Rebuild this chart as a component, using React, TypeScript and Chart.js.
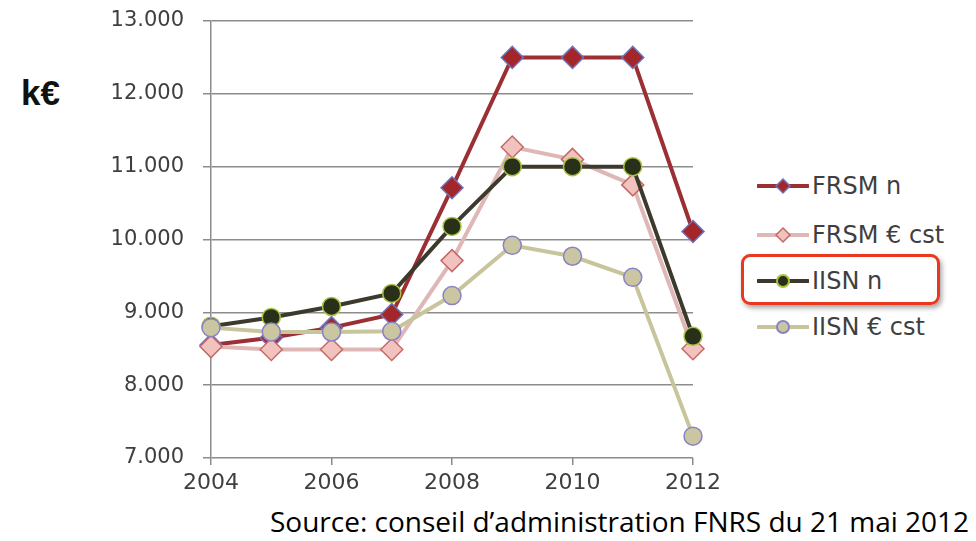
import React, { useEffect, useRef } from "react";
import { Chart, registerables } from "chart.js";

Chart.register(...registerables);

const years = [2004, 2005, 2006, 2007, 2008, 2009, 2010, 2011, 2012];
const frsmN = [8550, 8650, 8790, 8970, 10710, 12500, 12500, 12500, 10110];
const frsmCst = [8530, 8490, 8490, 8490, 9710, 11270, 11100, 10750, 8500];
const iisnN = [8810, 8930, 9080, 9260, 10180, 11000, 11000, 11000, 8670];
const iisnCst = [8790, 8730, 8730, 8740, 9230, 9920, 9770, 9480, 7300];
const seriesNames = ["FRSM n", "FRSM € cst", "IISN n", "IISN € cst"];
const yTicks = [7000, 8000, 9000, 10000, 11000, 12000, 13000];
const xTicks = [2004, 2006, 2008, 2010, 2012];

const styles = [
  { line: "#9b2f33", fill: "#a3262b", border: "#6f73b8", shape: "rectRot", r: 11 },
  { line: "#dfb7b6", fill: "#f2c3be", border: "#c46a66", shape: "rectRot", r: 11 },
  { line: "#3c3a2c", fill: "#28301a", border: "#a9c23f", shape: "circle", r: 9 },
  { line: "#c8c59c", fill: "#cbc6a2", border: "#8a82c2", shape: "circle", r: 9 },
];

const fmt = (v: number) => `${Math.floor(v / 1000)}.${String(v % 1000).padStart(3, "0")}`;

function LegendIcon({ i }: { i: number }) {
  const s = styles[i];
  return (
    <svg width={52} height={20} style={{ display: "block" }}>
      <line x1={1} y1={10} x2={51} y2={10} stroke={s.line} strokeWidth={4} strokeLinecap="round" />
      {s.shape === "rectRot" ? (
        <polygon points="26,3 33,10 26,17 19,10" fill={s.fill} stroke={s.border} strokeWidth={1.5} />
      ) : (
        <circle cx={26} cy={10} r={6} fill={s.fill} stroke={s.border} strokeWidth={2} />
      )}
    </svg>
  );
}

export default function App() {
  const ref = useRef<HTMLCanvasElement>(null);
  useEffect(() => {
    const all = [frsmN, frsmCst, iisnN, iisnCst];
    const chart = new Chart(ref.current!, {
      type: "line",
      data: {
        datasets: all.map((vals, i) => ({
          label: seriesNames[i],
          data: vals.map((v, k) => ({ x: years[k], y: v })),
          borderColor: styles[i].line,
          borderWidth: 4,
          backgroundColor: styles[i].fill,
          pointBackgroundColor: styles[i].fill,
          pointBorderColor: styles[i].border,
          pointBorderWidth: 1.5,
          pointStyle: styles[i].shape as any,
          pointRadius: styles[i].r,
          tension: 0,
          clip: false as any,
          order: 3 - i,
        })),
      },
      options: {
        animation: false,
        responsive: false,
        maintainAspectRatio: false,
        layout: { padding: { top: 21, right: 40, left: 0, bottom: 0 } },
        plugins: { legend: { display: false }, tooltip: { enabled: false } },
        scales: {
          x: {
            type: "linear",
            min: years[0],
            max: years[years.length - 1],
            afterBuildTicks: (s: any) => {
              s.ticks = xTicks.map((v) => ({ value: v }));
            },
            afterFit: (s: any) => {
              s.height = 42;
              s.paddingLeft = 0;
              s.paddingRight = 0;
            },
            ticks: {
              callback: (v: any) => String(v),
              color: "#3f3f3f",
              font: { family: "DejaVu Sans", size: 22 },
              padding: 5,
              maxRotation: 0,
            },
            grid: { drawOnChartArea: false, tickLength: 7, color: "#8c8c8c", lineWidth: 1.5 },
            border: { display: false },
          },
          y: {
            min: 7000,
            max: 13000,
            afterBuildTicks: (s: any) => {
              s.ticks = yTicks.map((v) => ({ value: v }));
            },
            afterFit: (s: any) => {
              s.width = 121;
              s.paddingTop = 10;
              s.paddingBottom = 10;
            },
            ticks: {
              callback: (v: any) => fmt(Number(v)),
              color: "#3f3f3f",
              font: { family: "DejaVu Sans", size: 21 },
              padding: 19,
            },
            grid: { color: "#8c8c8c", lineWidth: 1.5, tickLength: 8 },
            border: { color: "#8c8c8c", width: 1.5 },
          },
        },
      },
    });
    return () => chart.destroy();
  }, []);

  return (
    <div style={{ position: "fixed", left: 0, top: 0, width: 976, height: 541, background: "#fff", overflow: "hidden" }}>
      <div style={{ position: "absolute", left: 90, top: 0, width: 643, height: 500 }}>
        <canvas ref={ref} width={643} height={500} style={{ width: 643, height: 500 }} />
      </div>
      <div
        style={{
          position: "absolute",
          left: 21,
          top: 73,
          fontFamily: "Liberation Sans, Arial, sans-serif",
          fontWeight: "bold",
          fontSize: 35,
          color: "#111",
        }}
      >
        k€
      </div>
      <div
        style={{
          position: "absolute",
          left: 741,
          top: 254,
          width: 193,
          height: 45,
          border: "3px solid #e8381d",
          borderRadius: 9,
          boxShadow: "2px 3px 5px rgba(0,0,0,0.35)",
        }}
      />
      {seriesNames.map((n, i) => (
        <div
          key={n}
          style={{
            position: "absolute",
            left: 757,
            top: [171, 220, 266, 312][i],
            height: 30,
            display: "flex",
            alignItems: "center",
            fontFamily: "DejaVu Sans, sans-serif",
            fontSize: 24,
            color: "#3f3f3f",
            whiteSpace: "nowrap",
          }}
        >
          <LegendIcon i={i} />
          <span style={{ marginLeft: 3 }}>{n}</span>
        </div>
      ))}
      <div
        style={{
          position: "absolute",
          left: 270,
          top: 502,
          fontFamily: "Open Sans, sans-serif",
          fontSize: 28,
          color: "#000",
          whiteSpace: "nowrap",
        }}
      >
        Source: conseil d’administration FNRS du 21 mai 2012
      </div>
    </div>
  );
}
